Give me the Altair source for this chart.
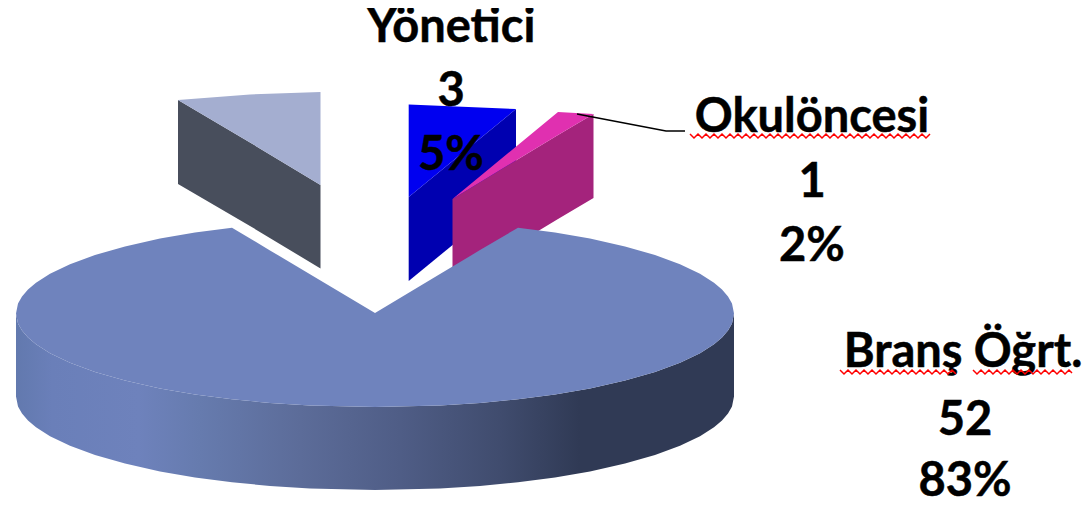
import altair as alt
import pandas as pd

# main slice, top face
top_x = [16, 18, 22, 28, 36, 50, 70, 95, 125, 160, 195, 232, 270, 310, 375, 440, 480, 518, 555, 590, 625, 655, 680, 700, 714, 722, 728, 732, 734]
top_y = [313.5, 303.6, 296.5, 289.5, 282.7, 273.8, 264.2, 255, 246.4, 238.6, 232.6, 227.7, 250.4, 274.2, 313, 274.1, 250.1, 227.7, 232.6, 238.6, 246.4, 255, 264.2, 273.8, 282.7, 289.5, 296.5, 303.6, 313.5]
front_y = [313.5, 323.4, 330.5, 337.5, 344.3, 353.2, 362.8, 372, 380.6, 388.4, 394.4, 399.3, 402.9, 405.5, 407, 405.5, 402.9, 399.3, 394.4, 388.4, 380.6, 372, 362.8, 353.2, 344.3, 337.5, 330.5, 323.4, 313.5]
base_y = [396.5, 406.4, 413.5, 420.5, 427.3, 436.2, 445.8, 455, 463.6, 471.4, 477.4, 482.3, 485.9, 488.5, 490, 488.5, 485.9, 482.3, 477.4, 471.4, 463.6, 455, 445.8, 436.2, 427.3, 420.5, 413.5, 406.4, 396.5]

# exploded grey slice
grey_x = [178, 250, 320.5]
grey_top = [100, 94.5, 92]
grey_edge = [100, 142.5, 185]
grey_base = [184, 226, 268.5]

# exploded blue slice
blue_x = [408.7, 516]
blue_top = [104.5, 109]
blue_edge = [197, 109]
blue_base = [281, 193]

# exploded pink slice
pink_x = [452.5, 558, 593.5]
pink_top = [199, 112, 114]
pink_edge = [199, 135, 114]
pink_base = [283, 219, 198]

# leader line
leader_x = [577, 666, 685]
leader_y = [114, 131, 131]

# spell-check squiggles
sq1_x = [690, 694, 698, 702, 706, 710, 714, 718, 722, 726, 730, 734, 738, 742, 746, 750, 754, 758, 762, 766, 770, 774, 778, 782, 786, 790, 794, 798, 802, 806, 810, 814, 818, 822, 826, 830, 834, 838, 842, 846, 850, 854, 858, 862, 866, 870, 874, 878, 882, 886, 890, 894, 898, 902, 906, 910, 914, 918, 922, 926, 930]
sq1_y = [134, 138, 134, 138, 134, 138, 134, 138, 134, 138, 134, 138, 134, 138, 134, 138, 134, 138, 134, 138, 134, 138, 134, 138, 134, 138, 134, 138, 134, 138, 134, 138, 134, 138, 134, 138, 134, 138, 134, 138, 134, 138, 134, 138, 134, 138, 134, 138, 134, 138, 134, 138, 134, 138, 134, 138, 134, 138, 134, 138, 134]
sq2_x = [840, 844, 848, 852, 856, 860, 864, 868, 872, 876, 880, 884, 888, 892, 896, 900, 904, 908, 912, 916, 920, 924, 928, 932, 936, 940, 944, 948, 952, 956]
sq2_y = [370, 374, 370, 374, 370, 374, 370, 374, 370, 374, 370, 374, 370, 374, 370, 374, 370, 374, 370, 374, 370, 374, 370, 374, 370, 374, 370, 374, 370, 374]
sq3_x = [973, 977, 981, 985, 989, 993, 997, 1001, 1005, 1009, 1013, 1017, 1021, 1025, 1029, 1033, 1037, 1041, 1045, 1049, 1053, 1057, 1061, 1065, 1069, 1072]
sq3_y = [370, 374, 370, 374, 370, 374, 370, 374, 370, 374, 370, 374, 370, 374, 370, 374, 370, 374, 370, 374, 370, 374, 370, 374, 370, 373]

# labels
label_text = ["Yönetici", "3", "5%", "Okulöncesi", "1", "2%", "Branş Öğrt.", "52", "83%"]
label_x = [451, 451, 451, 812, 812, 812, 963, 965, 965]
label_y = [42, 106, 170, 132, 197, 261, 367, 435, 496]

X = alt.X("x:Q", axis=None, scale=alt.Scale(domain=[8, 1082], nice=False, zero=False))
Y = alt.Y("y:Q", axis=None, scale=alt.Scale(domain=[505, 8], nice=False, zero=False))


def area(xs, ys, y2s, fill):
    df = pd.DataFrame({"x": xs, "y": ys, "y2": y2s})
    return alt.Chart(df).mark_area(fill=fill, interpolate="linear").encode(
        x=X, y=Y, y2=alt.Y2("y2:Q")
    )


def line(xs, ys, color, width):
    df = pd.DataFrame({"x": xs, "y": ys, "i": range(len(xs))})
    return alt.Chart(df).mark_line(color=color, strokeWidth=width).encode(
        x=X, y=Y, order="i:Q"
    )


side_fill = alt.Gradient(
    gradient="linear", x1=0, x2=1, y1=0, y2=0,
    stops=[
        alt.GradientStop(color="#6279ae", offset=0),
        alt.GradientStop(color="#6a7fb9", offset=0.05),
        alt.GradientStop(color="#6e82bc", offset=0.17),
        alt.GradientStop(color="#667bae", offset=0.256),
        alt.GradientStop(color="#5c6c99", offset=0.396),
        alt.GradientStop(color="#4f5d86", offset=0.535),
        alt.GradientStop(color="#404c6e", offset=0.674),
        alt.GradientStop(color="#303a55", offset=0.785),
        alt.GradientStop(color="#303a55", offset=1),
    ],
)

labels = alt.Chart(pd.DataFrame({"x": label_x, "y": label_y, "t": label_text})).mark_text(
    font="Lato", fontWeight="bold", fontSize=47, color="#000000", stroke="#000000", strokeWidth=0.5,
    align="center", baseline="alphabetic"
).encode(x=X, y=Y, text="t:N")

chart = alt.layer(
    area(grey_x, grey_edge, grey_base, "#484e5c"),
    area(grey_x, grey_top, grey_edge, "#a4aed0"),
    area(blue_x, blue_edge, blue_base, "#0000b0"),
    area(blue_x, blue_top, blue_edge, "#0000f0"),
    area(pink_x, pink_edge, pink_base, "#a4237c"),
    area(pink_x, pink_top, pink_edge, "#e030b0"),
    area(top_x, front_y, base_y, side_fill),
    area(top_x, top_y, front_y, "#6f83bd"),
    line(leader_x, leader_y, "#000000", 1.5),
    labels,
    line(sq1_x, sq1_y, "#ff0000", 1.5),
    line(sq2_x, sq2_y, "#ff0000", 1.5),
    line(sq3_x, sq3_y, "#ff0000", 1.5),
).properties(
    width=1074, height=497, padding=0,
    autosize=alt.AutoSizeParams(type="none"),
).configure_view(stroke=None)

chart.save("out.html", embed_options={"renderer": "svg", "actions": False})
